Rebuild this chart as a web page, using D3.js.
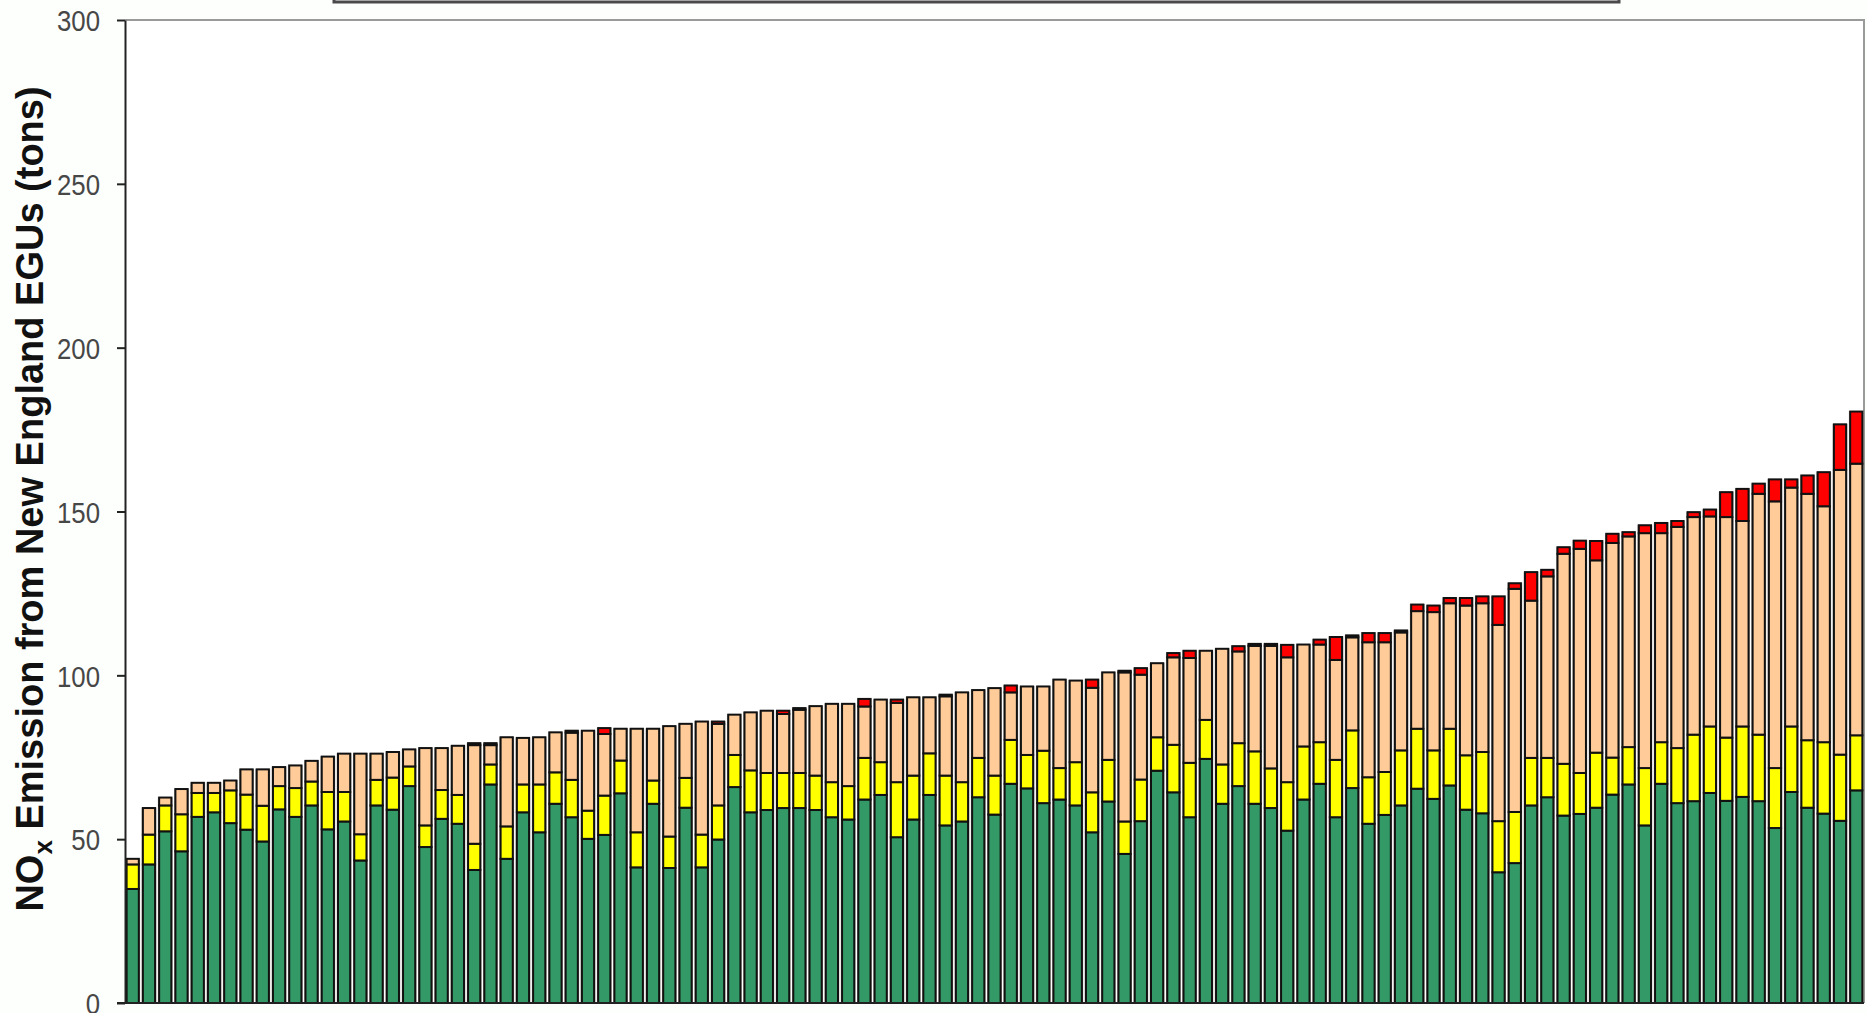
<!DOCTYPE html>
<html>
<head>
<meta charset="utf-8">
<script src="https://cdn.jsdelivr.net/npm/d3@7"></script>
<style>
  html, body { margin: 0; padding: 0; background: #fdfffd; }
  svg { display: block; }
</style>
</head>
<body>
<svg id="chart" width="1867" height="1013"></svg>
<script>
// Daily NOx emission from New England EGUs, one stacked bar per day,
// split into four source groups (bottom to top).
const days = d3.range(1, 108);

const greenSeg = [
  34.8, 42.3, 52.4, 46.3, 56.8, 58.2, 54.9, 52.9, 49.3, 59.1,
  56.8, 60.3, 53.0, 55.4, 43.5, 60.3, 59.0, 66.2, 47.6, 56.2,
  54.7, 40.6, 66.7, 44.0, 58.2, 52.1, 60.8, 56.7, 50.1, 51.3,
  64.0, 41.4, 60.8, 41.2, 59.6, 41.4, 49.9, 65.9, 58.2, 58.9,
  59.5, 59.5, 58.9, 56.7, 56.0, 62.1, 63.5, 50.6, 56.0, 63.5,
  54.2, 55.4, 62.8, 57.5, 66.9, 65.5, 61.0, 62.1, 60.3, 52.1,
  61.5, 45.5, 55.5, 70.9, 64.3, 56.7, 74.5, 60.8, 66.2, 60.8,
  59.5, 52.6, 62.1, 66.9, 56.7, 65.6, 54.7, 57.4, 60.3, 65.4,
  62.3, 66.4, 59.0, 57.9, 39.9, 42.7, 60.3, 62.8, 57.2, 57.7,
  59.6, 63.6, 66.7, 54.2, 66.9, 61.0, 61.6, 64.1, 61.7, 62.9,
  61.6, 53.4, 64.4, 59.6, 57.8, 55.6, 64.9
];

const yellowSeg = [
   7.5,  9.1,  7.9, 11.3,  7.3,  5.9, 10.0, 10.7, 10.9,  7.1,
   8.8,  7.3, 11.4,  9.0,  8.0,  7.8,  9.8,  6.0,  6.6,  8.8,
   8.8,  8.0,  6.1,  9.9,  8.5, 14.6,  9.6, 11.4,  8.6, 12.0,
  10.0, 10.7,  7.1,  9.6,  9.1, 10.0, 10.4,  9.8, 12.8, 11.3,
  10.7, 10.7, 10.5, 10.7, 10.2, 12.7, 10.0, 16.8, 13.4, 12.7,
  15.2, 12.0, 12.0, 11.9, 13.4, 10.2, 16.0,  9.6, 13.2, 12.2,
  12.7,  9.9, 12.7, 10.2, 14.5, 16.6, 11.9, 12.0, 13.1, 16.0,
  12.1, 14.8, 16.2, 12.7, 17.5, 17.6, 14.2, 13.1, 16.8, 18.3,
  14.8, 17.3, 16.6, 18.7, 15.6, 15.6, 14.5, 12.0, 15.8, 12.5,
  16.8, 11.3, 11.4, 17.5, 12.7, 16.8, 20.3, 20.3, 19.3, 21.5,
  20.3, 18.3, 20.0, 20.6, 21.8, 20.2, 16.8
];

const tanSeg = [
   1.7,  8.1,  2.4,  7.7,  3.1,  3.1,  3.0,  7.7, 11.1,  5.8,
   6.9,  6.3, 10.8, 11.7, 24.6,  8.0,  7.8,  5.2, 23.6, 12.8,
  15.0, 30.1,  5.9, 27.2, 14.2, 14.4, 12.2, 14.4, 24.4, 18.8,
   9.7, 31.6, 15.8, 33.7, 16.5, 34.5, 24.9, 12.3, 17.7, 19.0,
  18.0, 19.3, 21.2, 23.9, 25.1, 15.7, 19.1, 24.2, 23.9, 17.1,
  24.2, 27.4, 20.7, 26.7, 14.5, 20.9, 19.6, 27.0, 24.9, 31.9,
  26.7, 45.5, 32.0, 22.6, 26.7, 32.0, 21.1, 35.3, 28.0, 32.2,
  37.4, 38.1, 31.1, 29.8, 30.5, 28.4, 41.2, 39.6, 36.0, 35.9,
  42.2, 38.3, 45.7, 45.4, 59.9, 68.1, 48.0, 55.4, 64.1, 68.4,
  58.7, 65.5, 64.3, 71.7, 63.8, 67.5, 66.4, 64.1, 67.3, 62.7,
  73.5, 81.4, 72.9, 75.2, 72.0, 86.9, 82.9
];

const redSeg = [
   0,    0,    0,    0,    0,    0,    0,    0,    0,    0,
   0,    0,    0,    0,    0,    0,    0,    0,    0,    0,
   0,    0.6,  0.6,  0,    0,    0,    0,    0.6,  0,    1.8,
   0,    0,    0,    0,    0,    0,    0.7,  0,    0,    0,
   1.0,  0.5,  0,    0,    0,    2.3,  0,    1.0,  0,    0,
   0.5,  0,    0,    0,    2.1,  0,    0,    0,    0,    2.5,
   0,    0.5,  2.0,  0,    1.3,  2.2,  0,    0,    1.6,  0.6,
   0.6,  3.8,  0,    1.5,  7.0,  0.6,  2.8,  2.8,  0.6,  2.0,
   2.0,  1.6,  2.3,  2.1,  8.7,  1.7,  8.7,  2.0,  2.0,  2.5,
   5.9,  2.8,  1.3,  2.4,  3.1,  1.8,  1.5,  2.1,  7.6,  9.8,
   3.1,  6.7,  2.5,  5.6, 10.4, 13.9, 15.9
];

const seriesKeys = ["green", "yellow", "tan", "red"];
const seriesColors = ["#339966", "#ffff00", "#ffcc99", "#ff0000"];
const yTicks = [0, 50, 100, 150, 200, 250, 300];

const rows = days.map((d, i) => ({
  day: d,
  green: greenSeg[i],
  yellow: yellowSeg[i],
  tan: tanSeg[i],
  red: redSeg[i]
}));

const svg = d3.select("#chart");
const plotLeft = 125, plotRight = 1864, plotTop = 20, plotBottom = 1003;

const x = d3.scaleBand()
  .domain(days)
  .range([plotLeft, plotRight])
  .paddingInner(0.25)
  .paddingOuter(0.1);

const y = d3.scaleLinear()
  .domain([0, 300])
  .range([plotBottom, plotTop]);

// plot area
svg.append("rect")
  .attr("x", plotLeft).attr("y", plotTop)
  .attr("width", plotRight - plotLeft).attr("height", plotBottom - plotTop)
  .attr("fill", "#ffffff");

// legend box (only its lower edge falls inside the frame)
svg.append("rect")
  .attr("x", 334).attr("y", -40)
  .attr("width", 1285).attr("height", 42)
  .attr("fill", "#fdfffd")
  .attr("stroke", "#4a4a4a").attr("stroke-width", 3);

// plot frame: gray top and right edges
svg.append("path")
  .attr("d", `M${plotLeft},${plotTop}H${plotRight}V${plotBottom}`)
  .attr("fill", "none")
  .attr("stroke", "#9a9a9a")
  .attr("stroke-width", 2);

// stacked bars
const stack = d3.stack().keys(seriesKeys);
const layers = stack(rows);
const totals = rows.map(r => r.green + r.yellow + r.tan + r.red);

// soft gray edge around each column
svg.append("g")
  .selectAll("rect")
  .data(rows)
  .join("rect")
  .attr("x", d => x(d.day) - 1.3)
  .attr("width", x.bandwidth() + 2.6)
  .attr("y", (d, i) => y(totals[i]) - 0.5)
  .attr("height", (d, i) => plotBottom - y(totals[i]) + 0.5)
  .attr("fill", "#a8a39c");

svg.append("g")
  .selectAll("g")
  .data(layers)
  .join("g")
  .attr("fill", (d, i) => seriesColors[i])
  .selectAll("rect")
  .data(d => d.filter(p => p[1] - p[0] > 0))
  .join("rect")
  .attr("x", d => x(d.data.day))
  .attr("width", x.bandwidth())
  .attr("y", d => y(d[1]))
  .attr("height", d => y(d[0]) - y(d[1]))
  .attr("stroke", "#111")
  .attr("stroke-width", 2);

// y axis
const yAxis = d3.axisLeft(y)
  .tickValues(yTicks)
  .tickSize(8)
  .tickPadding(17)
  .tickSizeOuter(0);

const gy = svg.append("g")
  .attr("transform", `translate(${plotLeft},0)`)
  .call(yAxis);

gy.select(".domain").attr("stroke", "#222").attr("stroke-width", 2);
gy.selectAll(".tick line").attr("stroke", "#222").attr("stroke-width", 2);
const sx = 0.86;
gy.selectAll(".tick text")
  .attr("font-family", "'Liberation Sans', Arial, sans-serif")
  .attr("font-size", 30)
  .attr("fill", "#474747")
  .attr("x", -25 / sx)
  .attr("dy", "0.36em")
  .attr("transform", `scale(${sx},1)`);

// x axis baseline
svg.append("line")
  .attr("x1", plotLeft - 8).attr("x2", plotRight)
  .attr("y1", plotBottom).attr("y2", plotBottom)
  .attr("stroke", "#222").attr("stroke-width", 2);

// y axis title with subscript
const title = svg.append("text")
  .attr("transform", "translate(43,499) rotate(-90)")
  .attr("text-anchor", "middle")
  .attr("font-family", "'Liberation Sans', Arial, sans-serif")
  .attr("font-weight", "bold")
  .attr("font-size", 38)
  .attr("fill", "#111");
title.append("tspan").text("NO");
title.append("tspan")
  .attr("font-size", 26)
  .attr("dy", 9)
  .text("x");
title.append("tspan")
  .attr("dy", -9)
  .text(" Emission from New England EGUs (tons)");
</script>
</body>
</html>
